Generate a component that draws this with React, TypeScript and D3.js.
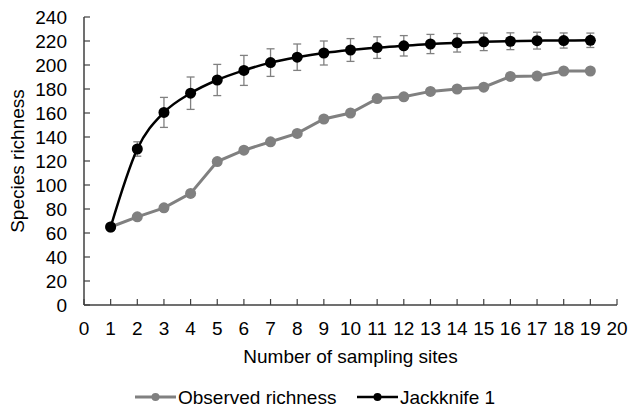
import React from "react";
import * as d3 from "d3";

const sites = [1, 2, 3, 4, 5, 6, 7, 8, 9, 10, 11, 12, 13, 14, 15, 16, 17, 18, 19];
const observed = [65, 73.5, 81, 93, 119.5, 129, 136, 143, 155, 160, 172, 173.5, 178, 180, 181.5, 190.5, 190.8, 195, 195];
const jackknife = [65, 130, 160.5, 176.5, 187.5, 195.5, 202, 206.5, 210, 212.5, 214.5, 216, 217.5, 218.5, 219.3, 219.8, 220.3, 220.4, 220.6];
const jackErr = [0, 6, 12.5, 13.5, 13, 12.5, 11.5, 11, 10, 9.5, 9, 8.5, 8, 7.7, 7.3, 7, 7, 6.3, 6];
const xTicks = d3.range(0, 21);
const yTicks = d3.range(0, 241, 20);
const seriesNames = ["Observed richness", "Jackknife 1"];

export default function App() {
  const W = 629, H = 416;
  const x = d3.scaleLinear().domain([0, 20]).range([84, 617]);
  const y = d3.scaleLinear().domain([0, 240]).range([305, 17]);
  const font = "'Liberation Sans', Arial, sans-serif";
  const axisColor = "#404040";
  const gray = "#808080";
  const fs = 19;

  const obsLine = d3.line<number>().x((_, i) => x(sites[i])).y((d) => y(d));
  const jackLine = d3
    .line<number>()
    .x((_, i) => x(sites[i]))
    .y((d) => y(d))
    .curve(d3.curveCardinal.tension(0));

  return (
    <svg width={W} height={H} style={{ position: "absolute", left: 0, top: 0, background: "#fff" }} fontFamily={font}>
      {/* axes */}
      <line x1={x(0)} x2={x(0)} y1={y(240)} y2={y(0)} stroke={axisColor} strokeWidth={1.5} />
      <line x1={x(0)} x2={x(20)} y1={y(0)} y2={y(0)} stroke={axisColor} strokeWidth={1.5} />
      {yTicks.map((t) => (
        <g key={"y" + t}>
          <line x1={x(0)} x2={x(0) + 6} y1={y(t)} y2={y(t)} stroke={axisColor} strokeWidth={1.2} />
          <text x={x(0) - 17} y={y(t)} dy="0.35em" textAnchor="end" fontSize={fs} fill="#000">
            {t}
          </text>
        </g>
      ))}
      {xTicks.map((t) => (
        <g key={"x" + t}>
          <line x1={x(t)} x2={x(t)} y1={y(0)} y2={y(0) - 6} stroke={axisColor} strokeWidth={1.2} />
          <text x={x(t)} y={y(0) + 30} textAnchor="middle" fontSize={fs} fill="#000">
            {t}
          </text>
        </g>
      ))}
      <text x={(x(0) + x(20)) / 2} y={363} textAnchor="middle" fontSize={fs} fill="#000">
        Number of sampling sites
      </text>
      <text transform={`translate(24,161) rotate(-90)`} textAnchor="middle" fontSize={fs} fill="#000">
        Species richness
      </text>

      {/* observed */}
      <path d={obsLine(observed) || ""} fill="none" stroke={gray} strokeWidth={3} />
      {observed.map((v, i) => (
        <circle key={"o" + i} cx={x(sites[i])} cy={y(v)} r={5.5} fill={gray} />
      ))}

      {/* jackknife error bars */}
      {jackknife.map((v, i) =>
        jackErr[i] > 0 ? (
          <g key={"e" + i} stroke={gray} strokeWidth={1.3}>
            <line x1={x(sites[i])} x2={x(sites[i])} y1={y(v + jackErr[i])} y2={y(v - jackErr[i])} />
            <line x1={x(sites[i]) - 4} x2={x(sites[i]) + 4} y1={y(v + jackErr[i])} y2={y(v + jackErr[i])} />
            <line x1={x(sites[i]) - 4} x2={x(sites[i]) + 4} y1={y(v - jackErr[i])} y2={y(v - jackErr[i])} />
          </g>
        ) : null
      )}
      <path d={jackLine(jackknife) || ""} fill="none" stroke="#000" strokeWidth={2.5} />
      {jackknife.map((v, i) => (
        <circle key={"j" + i} cx={x(sites[i])} cy={y(v)} r={5.5} fill="#000" />
      ))}

      {/* legend */}
      <g>
        <line x1={135} x2={176} y1={397} y2={397} stroke={gray} strokeWidth={3} />
        <circle cx={155.5} cy={397} r={4} fill={gray} />
        <text x={178} y={397} dy="0.35em" fontSize={fs} fill="#000">
          {seriesNames[0]}
        </text>
        <line x1={357} x2={398} y1={397} y2={397} stroke="#000" strokeWidth={2.5} />
        <circle cx={377.5} cy={397} r={4} fill="#000" />
        <text x={400} y={397} dy="0.35em" fontSize={fs} fill="#000">
          {seriesNames[1]}
        </text>
      </g>
    </svg>
  );
}
